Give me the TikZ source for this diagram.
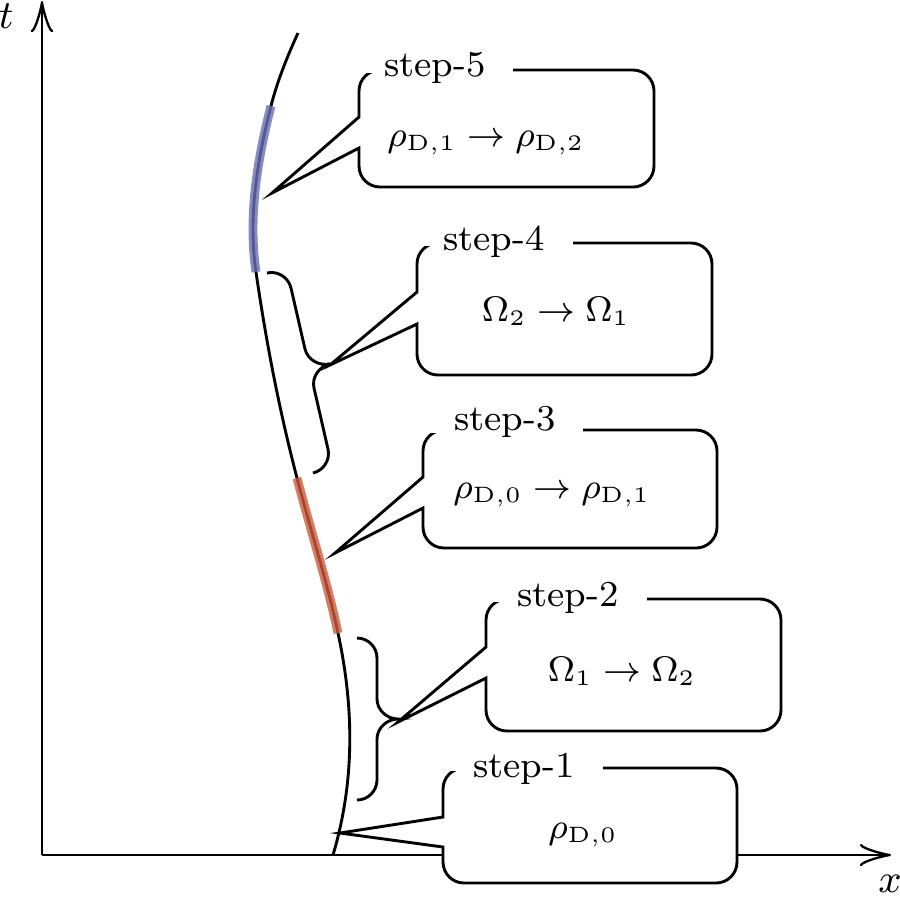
\documentclass[tikz,border=0pt]{standalone}
\usetikzlibrary{arrows.meta}
\definecolor{segred}{RGB}{205,90,60}
\definecolor{segblue}{RGB}{105,110,180}
% #1 L, #2 T, #3 R, #4 B, #5 gap end x, #6 pointer top y, #7 pointer bottom y, #8 tip coordinate
\newcommand\calloutbox[8]{%
  \filldraw[boxline] ({#1+21},#2) -- ({#3-21},#2)
    .. controls ({#3-9.4},#2) and (#3,{#2+9.4}) .. (#3,{#2+21})
    -- (#3,{#4-21})
    .. controls (#3,{#4-9.4}) and ({#3-9.4},#4) .. ({#3-21},#4)
    -- ({#1+21},#4)
    .. controls ({#1+9.4},#4) and (#1,{#4-9.4}) .. (#1,{#4-21})
    -- (#1,#7) -- (#8) -- (#1,#6) -- (#1,{#2+21})
    .. controls (#1,{#2+9.4}) and ({#1+9.4},#2) .. ({#1+21},#2) -- cycle;
  \fill[white] ({#1-6},{#2-20}) rectangle (#5,{#2+3});
}
\begin{document}
\begin{tikzpicture}[x=0.225pt,y=-0.225pt,line width=0.65pt,
  every node/.style={inner sep=0pt},
  axislabel/.style={font=\fontsize{9}{10}\selectfont},
  axisline/.style={-{Classical TikZ Rightarrow[length=7pt,width=5pt]}},
  boxline/.style={fill=white,draw=black,line width=0.65pt},
  curveline/.style={draw=black,line width=0.65pt},
  redseg/.style={draw=segred,line width=2pt,opacity=0.8},
  blueseg/.style={draw=segblue,line width=2pt,opacity=0.8},
  bracestyle/.style={draw=black,line width=0.65pt},
  titletext/.style={anchor=base west,font=\fontsize{8.2}{9.5}\selectfont},
  content/.style={anchor=base,font=\fontsize{7.6}{9}\selectfont}]
\useasboundingbox (0,0) rectangle (900,897);

% axes
\coordinate (O) at (42,855);
\coordinate (ytip) at (42,1);
\coordinate (xtip) at (891,855);
\draw[axisline] (O) -- (ytip);
\draw[axisline] (O) -- (xtip);
\node[axislabel] (tl) at (6,16) {$t$};
\node[axislabel] (xl) at (890,884) {$x$};

% curve
\draw[curveline] (333,855) .. controls (355,781) and (354,707) .. (338,633)
  .. controls (327,581) and (310.5,530) .. (297,478)
  .. controls (279,409) and (266,341) .. (256,272)
  .. controls (248,217) and (257,161) .. (271,106)
  .. controls (277,82) and (287,57) .. (298,33);
\draw[redseg] (338,633) .. controls (327,581) and (310.5,530) .. (297,478);
\draw[blueseg] (256,272) .. controls (248,217) and (257,161) .. (271,106);

% braces
\coordinate (b4a) at (267,273);
\coordinate (b4b) at (313,473);
\coordinate (b4t) at (330,363.8);
\draw[bracestyle] (b4a) .. controls (277.7,270.5) and (288.5,277.3) .. (291,288)
  -- (305,349) .. controls (307.5,359.8) and (319.2,366.3) .. (b4t)
  .. controls (319.2,366.3) and (311.5,377.3) .. (314,388)
  -- (328,449.1) .. controls (330.4,459.8) and (323.7,470.5) .. (b4b);
\coordinate (b2a) at (357,638);
\coordinate (b2b) at (357,800);
\coordinate (b2t) at (398,719);
\draw[bracestyle] (b2a) .. controls (368,638) and (377,647) .. (377,658)
  -- (377,699) .. controls (377,710) and (387,719) .. (b2t)
  .. controls (387,719) and (377,728) .. (377,739)
  -- (377,780) .. controls (377,791) and (368,800) .. (b2b);

% tips
\coordinate (tip5) at (272,193);
\coordinate (tip4) at (330,365);
\coordinate (tip3) at (335,553);
\coordinate (tip2) at (398,722);
\coordinate (tip1) at (340,833);

% callouts
\calloutbox{359}{70}{654}{187}{513}{117}{148}{tip5}
\node[titletext] (t5) at (383,76) {step-5};
\node[content] (c5) at (486,146) {$\rho_{\mathrm{D},1}\to\rho_{\mathrm{D},2}$};

\calloutbox{417}{243}{712}{375}{573}{292}{324}{tip4}
\node[titletext] (t4) at (442,250) {step-4};
\node[content] (c4) at (556,321) {$\Omega_2\to\Omega_1$};

\calloutbox{423}{430}{717}{548}{583}{477}{508}{tip3}
\node[titletext] (t3) at (453,430) {step-3};
\node[content] (c3) at (552,498) {$\rho_{\mathrm{D},0}\to\rho_{\mathrm{D},1}$};

\calloutbox{486}{599}{781}{731}{647}{647}{678}{tip2}
\node[titletext] (t2) at (516,606) {step-2};
\node[content] (c2) at (622,681) {$\Omega_1\to\Omega_2$};

\calloutbox{443}{768}{737}{883}{603}{817}{847}{tip1}
\node[titletext] (t1) at (472,777) {step-1};
\node[content] (c1) at (583,838) {$\rho_{\mathrm{D},0}$};
\end{tikzpicture}
\end{document}
